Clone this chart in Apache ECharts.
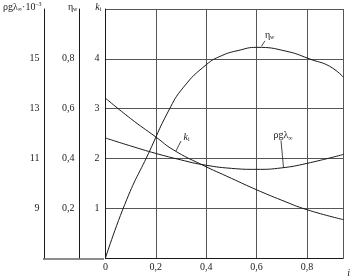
<!DOCTYPE html>
<html><head><meta charset="utf-8">
<script src="https://cdn.jsdelivr.net/npm/echarts@6/dist/echarts.min.js"></script>
<style>html,body{margin:0;padding:0;background:#fff}#c{width:353px;height:278px}</style>
</head><body><div id="c"></div>
<script>
// i (relative flow) values
const etaX = [0, 0.085, 0.17, 0.25, 0.31, 0.4, 0.46, 0.53, 0.6, 0.72, 0.82, 0.89, 0.945];
const etaVals = [0, 0.236, 0.418, 0.59, 0.686, 0.776, 0.812, 0.834, 0.846, 0.83, 0.796, 0.77, 0.726];
const kX = [0, 0.1, 0.2, 0.27, 0.38, 0.5, 0.6, 0.7, 0.8, 0.945];
const kVals = [3.21, 2.8, 2.43, 2.17, 1.88, 1.6, 1.37, 1.16, 0.97, 0.77];
const rhoX = [0, 0.1, 0.2, 0.3, 0.38, 0.5, 0.6, 0.7, 0.8, 0.945];
const rhoVals = [11.82, 11.5, 11.2, 10.94, 10.76, 10.6, 10.56, 10.62, 10.8, 11.16];
const xTicks = [0, 0.2, 0.4, 0.6, 0.8];
const kTicks = [1, 2, 3, 4];
const etaTicks = [0.2, 0.4, 0.6, 0.8];
const rhoTicks = [9, 11, 13, 15];

const FONT = 'Liberation Serif';
const INK = '#1a1a1a';
const GRID = '#555';
const has = (arr, v) => arr.some(t => Math.abs(t - v) < 1e-6);
const comma = v => String(+v.toFixed(1)).replace('.', ',');
const zip = (xs, ys) => xs.map((x, i) => [x, ys[i]]);
const baseText = {fontFamily: FONT, fontSize: 10, color: INK};
const rich = {
  a: {fontFamily: FONT, fontSize: 10, color: INK},
  i: {fontFamily: FONT, fontSize: 10, color: INK, fontStyle: 'italic'},
  s: {fontFamily: FONT, fontSize: 6, color: INK, padding: [5, 0, 0, 0]},
  p: {fontFamily: FONT, fontSize: 6, color: INK, padding: [0, 0, 6, 0]}
};

const chart = echarts.init(document.getElementById('c'), null, {renderer: 'canvas'});
const yCommon = {
  type: 'value', position: 'left',
  axisLine: {show: true, onZero: false, lineStyle: {color: INK, width: 1}},
  axisTick: {show: false},
  nameLocation: 'end', nameGap: 2,
};
const lineSeries = {
  type: 'line', smooth: 0.5, showSymbol: false, symbol: 'none',
  lineStyle: {color: INK, width: 1}
};
chart.setOption({
  animation: false,
  backgroundColor: '#fff',
  grid: {left: 104, right: 8, top: 9, bottom: 19},
  xAxis: {
    type: 'value', min: 0, max: 0.944, interval: 0.2,
    axisLine: {show: true, lineStyle: {color: INK, width: 1}},
    axisTick: {show: false},
    axisLabel: Object.assign({}, baseText, {margin: 4, showMaxLabel: true,
      formatter: v => has(xTicks, v) ? comma(v) : ''}),
    splitLine: {show: true, lineStyle: {color: GRID, width: 1}},
    name: 'i', nameLocation: 'end', nameGap: 4,
    nameTextStyle: Object.assign({}, baseText, {fontStyle: 'italic', verticalAlign: 'top', padding: [10, 0, 0, 0]})
  },
  yAxis: [
    Object.assign({}, yCommon, {
      min: 0, max: 5, interval: 1, offset: 0,
      axisLabel: Object.assign({}, baseText, {margin: 6, formatter: v => has(kTicks, v) ? String(v) : ''}),
      splitLine: {show: true, lineStyle: {color: GRID, width: 1}},
      name: '{i|k}{s|i}',
      nameTextStyle: {align: 'right', verticalAlign: 'middle', padding: [0, 4, 0, 0], rich: rich}
    }),
    Object.assign({}, yCommon, {
      min: 0, max: 1, interval: 0.2, offset: 26,
      axisLabel: Object.assign({}, baseText, {margin: 5, formatter: v => has(etaTicks, v) ? comma(v) : ''}),
      splitLine: {show: false},
      name: '{a|η}{s|w}',
      nameTextStyle: {align: 'right', verticalAlign: 'middle', padding: [0, 2, 0, 0], rich: rich}
    }),
    Object.assign({}, yCommon, {
      min: 7, max: 17, interval: 1, offset: 61,
      axisLabel: Object.assign({}, baseText, {margin: 5, formatter: v => has(rhoTicks, v) ? String(v) : ''}),
      splitLine: {show: false},
      name: '{a|ρgλ}{s|∞}{a|·10}{p|–3}',
      nameTextStyle: {align: 'right', verticalAlign: 'middle', padding: [0, 3, 0, 0], rich: rich}
    })
  ],
  graphic: [{
    type: 'line', shape: {x1: 43, y1: 259, x2: 104, y2: 259},
    style: {stroke: INK, lineWidth: 1}
  }],
  series: [
    Object.assign({}, lineSeries, {
      name: 'eta', yAxisIndex: 1, data: zip(etaX, etaVals),
      markLine: {silent: true, symbol: 'none', label: {show: false},
        lineStyle: {color: INK, width: 0.8, type: 'solid'},
        data: [[{coord: [0.633, 0.872]}, {coord: [0.619, 0.85]}]]},
      markPoint: {silent: true, symbol: 'rect', symbolSize: 1, itemStyle: {color: 'rgba(0,0,0,0)'},
        label: {show: true, position: 'inside', formatter: '{a|η}{s|w}', rich: rich},
        data: [{coord: [0.652, 0.896]}]}
    }),
    Object.assign({}, lineSeries, {
      name: 'k', yAxisIndex: 0, data: zip(kX, kVals),
      markLine: {silent: true, symbol: 'none', label: {show: false},
        lineStyle: {color: INK, width: 0.8, type: 'solid'},
        data: [[{coord: [0.30, 2.35]}, {coord: [0.28, 2.15]}]]},
      markPoint: {silent: true, symbol: 'rect', symbolSize: 1, itemStyle: {color: 'rgba(0,0,0,0)'},
        label: {show: true, position: 'inside', formatter: '{i|k}{s|i}', rich: rich},
        data: [{coord: [0.322, 2.43]}]}
    }),
    Object.assign({}, lineSeries, {
      name: 'rho', yAxisIndex: 2, data: zip(rhoX, rhoVals),
      markLine: {silent: true, symbol: 'none', label: {show: false},
        lineStyle: {color: INK, width: 0.8, type: 'solid'},
        data: [[{coord: [0.697, 11.72]}, {coord: [0.707, 10.62]}]]},
      markPoint: {silent: true, symbol: 'rect', symbolSize: 1, itemStyle: {color: 'rgba(0,0,0,0)'},
        label: {show: true, position: 'inside', formatter: '{a|ρgλ}{s|∞}', rich: rich},
        data: [{coord: [0.705, 11.92]}]}
    })
  ]
});
</script></body></html>
